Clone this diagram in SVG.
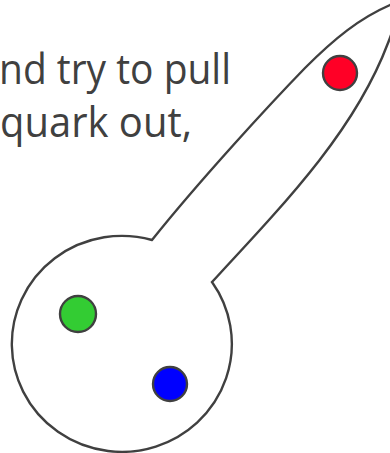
<svg xmlns="http://www.w3.org/2000/svg" width="390" height="453" viewBox="0 0 390 453">
<style>
.txt{font-family:"Open Sans","Liberation Sans",sans-serif;font-size:42px;fill:#404040}
.outline{fill:none;stroke:#404040;stroke-width:2.4;stroke-linejoin:miter}
.q{stroke:#404040;stroke-width:2.4}
</style>
<rect width="390" height="453" fill="#ffffff"/>
<g id="caption">
<text class="txt" x="-1" y="84" textLength="232" lengthAdjust="spacingAndGlyphs">nd try to pull</text>
<text class="txt" x="0" y="137" textLength="192" lengthAdjust="spacingAndGlyphs">quark out,</text>
</g>
<g id="hadron">
<path class="outline" d="M152,240 A110,108 0 1 0 212,282 C291,197 356,128 388,43 C398,17 402,2 390,5 C360,18 335,38 305,68 C270,104 200,180 152,240 Z"/>
</g>
<g id="red-quark"><circle class="q" cx="340" cy="73" r="17" fill="#ff0026"/></g>
<g id="green-quark"><circle class="q" cx="78" cy="314" r="18" fill="#33cc33"/></g>
<g id="blue-quark"><circle class="q" cx="170" cy="384" r="17" fill="#0000ff"/></g>
</svg>
